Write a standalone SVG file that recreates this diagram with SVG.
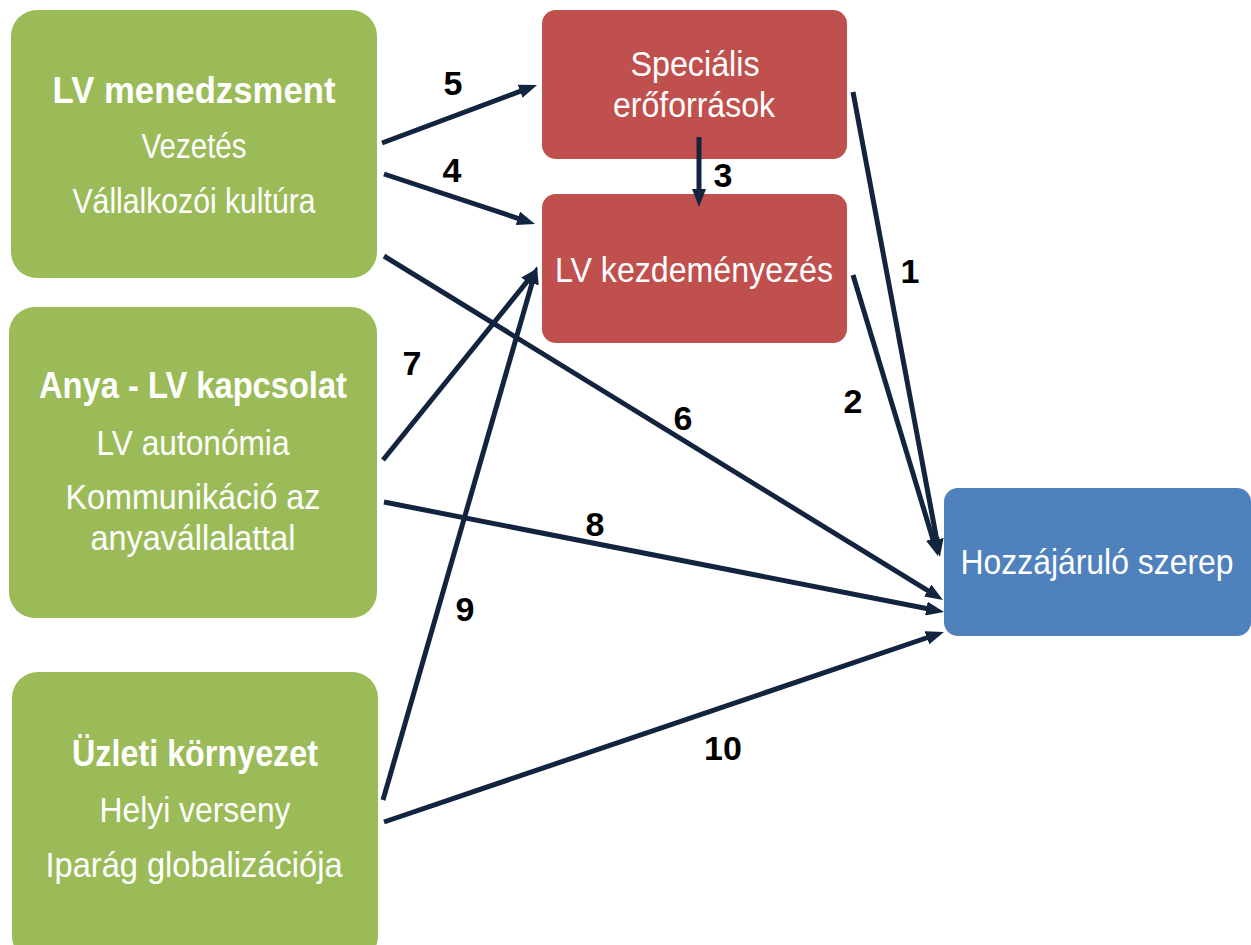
<svg xmlns="http://www.w3.org/2000/svg" width="1251" height="945" viewBox="0 0 1251 945">
<style>
.g{fill:#9BBB59}
.r{fill:#C0504D}
.b{fill:#4F81BD}
.t{font-family:"Liberation Sans",Arial,sans-serif;fill:#FFFFFF;text-anchor:middle;font-size:35px}
.h{font-weight:bold;font-size:37px}
.c{stroke:#13243F;stroke-width:5;fill:none;marker-end:url(#ah)}
.n{font-family:"Liberation Sans",Arial,sans-serif;font-weight:bold;font-size:34px;fill:#000000;text-anchor:middle}
</style>
<defs>
<marker id="ah" markerUnits="userSpaceOnUse" markerWidth="18" markerHeight="14" refX="4" refY="7" orient="auto">
<path d="M0,0 L18,7 L0,14 z" fill="#13243F"/>
</marker>
</defs>
<rect width="1251" height="945" fill="#FFFFFF"/>
<g id="lv-menedzsment">
<rect class="g" x="11" y="10" width="366" height="268" rx="26"/>
<text class="t h" x="194" y="103" textLength="283" lengthAdjust="spacingAndGlyphs">LV menedzsment</text>
<text class="t" x="194" y="158" textLength="105" lengthAdjust="spacingAndGlyphs">Vezetés</text>
<text class="t" x="194" y="213" textLength="243" lengthAdjust="spacingAndGlyphs">Vállalkozói kultúra</text>
</g>
<g id="anya-lv-kapcsolat">
<rect class="g" x="9" y="307" width="368" height="311" rx="26"/>
<text class="t h" x="193" y="398" textLength="308" lengthAdjust="spacingAndGlyphs">Anya - LV kapcsolat</text>
<text class="t" x="193" y="455" textLength="193" lengthAdjust="spacingAndGlyphs">LV autonómia</text>
<text class="t" x="193" y="509" textLength="255" lengthAdjust="spacingAndGlyphs">Kommunikáció az</text>
<text class="t" x="193" y="550" textLength="205" lengthAdjust="spacingAndGlyphs">anyavállalattal</text>
</g>
<g id="uzleti-kornyezet">
<rect class="g" x="12" y="672" width="366" height="290" rx="26"/>
<text class="t h" x="195" y="766" textLength="246" lengthAdjust="spacingAndGlyphs">Üzleti környezet</text>
<text class="t" x="195" y="822" textLength="191" lengthAdjust="spacingAndGlyphs">Helyi verseny</text>
<text class="t" x="194" y="877" textLength="297" lengthAdjust="spacingAndGlyphs">Iparág globalizációja</text>
</g>
<g id="specialis-eroforrasok">
<rect class="r" x="542" y="10" width="305" height="149" rx="14"/>
<text class="t" x="695" y="76" textLength="129" lengthAdjust="spacingAndGlyphs">Speciális</text>
<text class="t" x="694" y="117" textLength="162" lengthAdjust="spacingAndGlyphs">erőforrások</text>
</g>
<g id="lv-kezdemenyezes">
<rect class="r" x="542" y="194" width="305" height="149" rx="14"/>
<text class="t" x="694" y="282" textLength="278" lengthAdjust="spacingAndGlyphs">LV kezdeményezés</text>
</g>
<g id="hozzajarulo-szerep">
<rect class="b" x="944" y="488" width="307" height="148" rx="14"/>
<text class="t" x="1097" y="574" textLength="273" lengthAdjust="spacingAndGlyphs">Hozzájáruló szerep</text>
</g>
<g id="connectors">
<line class="c" x1="382" y1="143" x2="523.9" y2="89.9"/>
<line class="c" x1="384" y1="174" x2="521.7" y2="219.6"/>
<line class="c" x1="384" y1="256" x2="931.1" y2="592.7"/>
<line class="c" x1="383" y1="460" x2="529.2" y2="278.9"/>
<line class="c" x1="383" y1="800" x2="533.1" y2="279.5"/>
<line class="c" x1="384" y1="502" x2="930.3" y2="609.3"/>
<line class="c" x1="384" y1="822" x2="930.7" y2="636.5"/>
<line class="c" x1="853" y1="92" x2="937.4" y2="543.2"/>
<line class="c" x1="853" y1="275" x2="933.9" y2="542.6"/>
<line class="c" x1="699" y1="137" x2="699" y2="193"/>
<text class="n" x="453" y="95">5</text>
<text class="n" x="452" y="182">4</text>
<text class="n" x="723" y="187">3</text>
<text class="n" x="910" y="283">1</text>
<text class="n" x="853" y="413">2</text>
<text class="n" x="412" y="375">7</text>
<text class="n" x="683" y="430">6</text>
<text class="n" x="595" y="536">8</text>
<text class="n" x="465" y="621">9</text>
<text class="n" x="723" y="760">10</text>
</g>
</svg>
